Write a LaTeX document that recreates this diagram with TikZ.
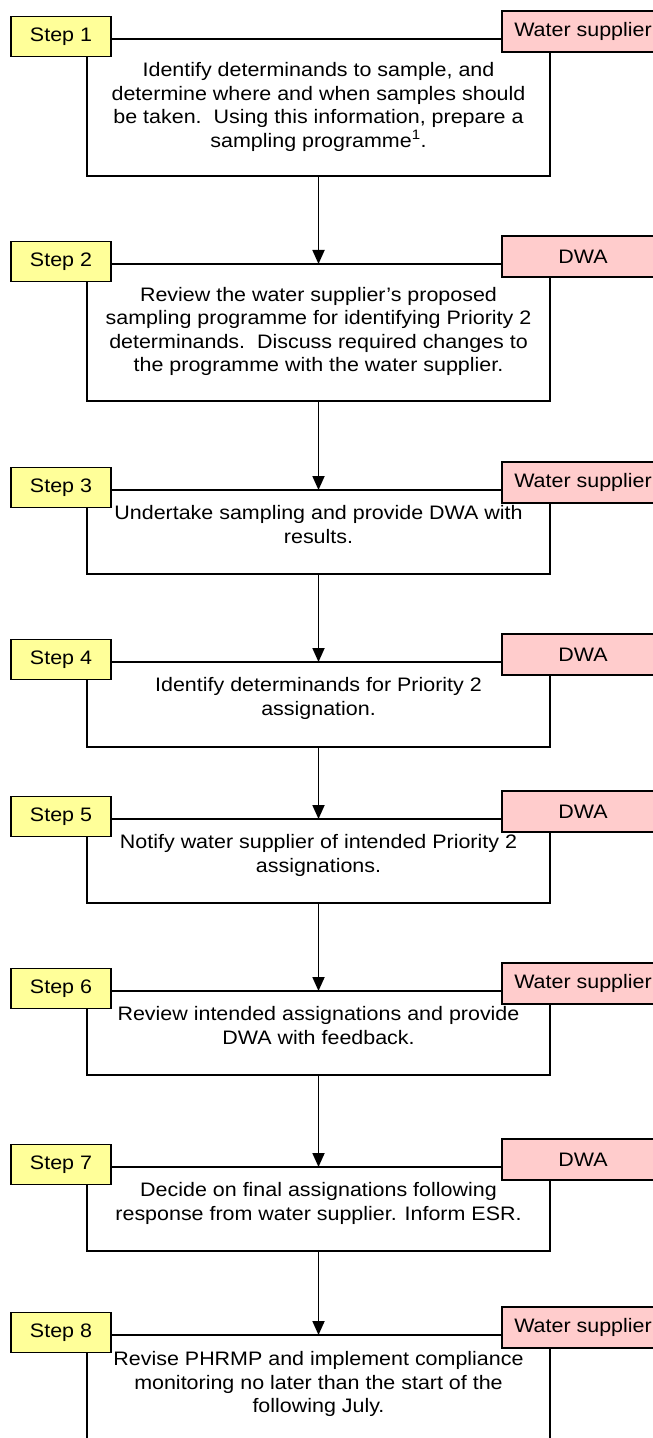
\documentclass[tikz,border=0pt]{standalone}
\usepackage{fontspec}
\setmainfont{Liberation Sans}[FakeStretch=1.1]
\usetikzlibrary{arrows.meta}
\definecolor{stepfill}{HTML}{FFFF99}
\definecolor{rolefill}{HTML}{FFCCCC}
\newcommand{\bodyfont}{\fontsize{19.5bp}{23.5bp}\selectfont}
\begin{document}
\begin{tikzpicture}[x=1bp,y=-1bp,
  every node/.style={inner sep=0pt,outer sep=0pt},
  mainbox/.style={draw=black,line width=1.5bp,fill=white,minimum width=463bp},
  bodytext/.style={anchor=north,align=center,font=\bodyfont},
  stepbox/.style={draw=black,line width=1.5bp,fill=stepfill,minimum width=100bp,
    minimum height=40bp,font=\bodyfont},
  rolebox/.style={draw=black,line width=1.5bp,fill=rolefill,minimum width=162bp,
    minimum height=41bp,font=\bodyfont},
  flow/.style={draw=black,line width=1.8bp,-{Triangle[length=14bp,width=12bp]}}]
\clip (0,0) rectangle (653,1438);
\fill[white] (0,0) rectangle (653,1438);

% main boxes: top edge lies on the step line
\node[mainbox,minimum height=137bp] (s1) at (318.5,107.5) {};
\node[mainbox,minimum height=137bp] (s2) at (318.5,332.5) {};
\node[mainbox,minimum height=84bp]  (s3) at (318.5,532) {};
\node[mainbox,minimum height=85bp]  (s4) at (318.5,704.5) {};
\node[mainbox,minimum height=84bp]  (s5) at (318.5,861) {};
\node[mainbox,minimum height=84bp]  (s6) at (318.5,1033) {};
\node[mainbox,minimum height=84bp]  (s7) at (318.5,1209) {};
\node[mainbox,minimum height=137bp] (s8) at (318.5,1403.5) {};

% box texts
\node[bodytext] (x1) at (318.5,60.5)
  {\strut Identify determinands to sample, and\\determine where and when samples should\\be taken.\ \ Using this information, prepare a\\sampling programme\textsuperscript{1}.};
\node[bodytext] (x2) at (318.5,285)
  {\strut Review the water supplier’s proposed\\sampling programme for identifying Priority 2\\determinands.\ \ Discuss required changes to\\the programme with the water supplier.};
\node[bodytext] (x3) at (318.5,503.5)
  {\strut Undertake sampling and provide DWA with\\results.};
\node[bodytext] (x4) at (318.5,675.5)
  {\strut Identify determinands for Priority 2\\assignation.};
\node[bodytext] (x5) at (318.5,832.5)
  {\strut Notify water supplier of intended Priority 2\\assignations.};
\node[bodytext] (x6) at (318.5,1004.5)
  {\strut Review intended assignations and provide\\DWA with feedback.};
\node[bodytext] (x7) at (318.5,1180.5)
  {\strut Decide on final assignations following\\response from water supplier. Inform ESR.};
\node[bodytext] (x8) at (318.5,1349.5)
  {\strut Revise PHRMP and implement compliance\\monitoring no later than the start of the\\following July.};

% step labels (left) and responsible party (right)
\node[stepbox] (t1) at (61,36.5) {Step 1};
\node[rolebox] (r1) at (583,31.5) {Water supplier};
\node[stepbox] (t2) at (61,261.5) {Step 2};
\node[rolebox] (r2) at (583,256.5) {DWA};
\node[stepbox] (t3) at (61,487.5) {Step 3};
\node[rolebox] (r3) at (583,482.5) {Water supplier};
\node[stepbox] (t4) at (61,659.5) {Step 4};
\node[rolebox] (r4) at (583,654.5) {DWA};
\node[stepbox] (t5) at (61,816.5) {Step 5};
\node[rolebox] (r5) at (583,811.5) {DWA};
\node[stepbox] (t6) at (61,988.5) {Step 6};
\node[rolebox] (r6) at (583,983.5) {Water supplier};
\node[stepbox] (t7) at (61,1164.5) {Step 7};
\node[rolebox] (r7) at (583,1159.5) {DWA};
\node[stepbox] (t8) at (61,1332.5) {Step 8};
\node[rolebox] (r8) at (583,1327.5) {Water supplier};

% arrows between steps
\foreach \a/\b in {s1/s2,s2/s3,s3/s4,s4/s5,s5/s6,s6/s7,s7/s8}
  \draw[flow] (\a.south) -- (\b.north);
\end{tikzpicture}
\end{document}
